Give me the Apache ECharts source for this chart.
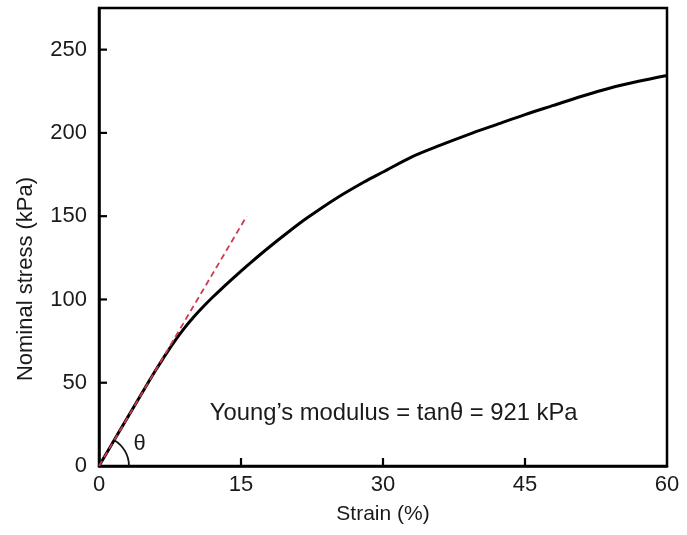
<!DOCTYPE html>
<html>
<head>
<meta charset="utf-8">
<script src="https://cdn.jsdelivr.net/npm/echarts@6/dist/echarts.min.js"></script>
<style>html,body{margin:0;padding:0;background:#fff}#c{width:687px;height:535px}</style>
</head>
<body>
<div id="c"></div>
<script>
const strainPct = [0, 2, 4, 5, 6, 7, 8, 9, 10, 11, 12, 13, 14, 15, 16, 18, 20, 22, 25, 28, 30, 33, 36, 39, 42, 45, 48, 51, 54, 57, 60];
const stressKPa = [0, 19.3, 38.6, 48.2, 57.6, 66.6, 75, 82.6, 89.4, 95.6, 101.3, 106.7, 111.9, 117, 122, 131.5, 140.5, 149, 160.5, 170.5, 176.5, 185.5, 192.5, 199, 205, 211, 216.5, 222, 227, 231, 234.5];
const tangentStrain = [0, 15.6];
const tangentStress = [0, 150];
const xTicks = [0, 15, 30, 45, 60];
const yTicks = [0, 50, 100, 150, 200, 250];
const annotationText = 'Young\u2019s modulus = tan\u03b8 = 921 kPa';
const annotationPos = [11.7, 31.6];
const thetaPos = [4.3, 13];

const FONT = "'Liberation Sans', Arial, sans-serif";
const chart = echarts.init(document.getElementById('c'), null, {renderer: 'canvas'});

const option = {
  animation: false,
  backgroundColor: '#fff',
  grid: {left: 99, right: 20, top: 8, bottom: 69, show: true, borderColor: '#000', borderWidth: 2.5, backgroundColor: 'transparent'},
  xAxis: {
    type: 'value', min: xTicks[0], max: xTicks[xTicks.length - 1], interval: 15,
    name: 'Strain (%)', nameLocation: 'middle', nameGap: 38,
    nameTextStyle: {fontFamily: FONT, fontSize: 21, color: '#1a1a1a'},
    axisLine: {show: true, onZero: false, lineStyle: {color: '#000', width: 2.5}},
    axisTick: {show: false},
    axisLabel: {fontFamily: FONT, fontSize: 22, color: '#1a1a1a', margin: 8},
    splitLine: {show: false}
  },
  yAxis: {
    type: 'value', min: 0, max: 275, interval: 50,
    name: 'Nominal stress (kPa)', nameLocation: 'middle', nameGap: 62,
    nameTextStyle: {fontFamily: FONT, fontSize: 22, color: '#1a1a1a', padding: [0, 84, 0, 0]},
    axisLine: {show: true, onZero: false, lineStyle: {color: '#000', width: 2.5}},
    axisTick: {show: false},
    axisLabel: {fontFamily: FONT, fontSize: 22, color: '#1a1a1a', margin: 12, customValues: yTicks},
    splitLine: {show: false}
  },
  series: [
    {
      type: 'line', name: 'curve', showSymbol: false, symbol: 'none', smooth: 0.3,
      data: strainPct.map((x, i) => [x, stressKPa[i]]),
      lineStyle: {color: '#000', width: 3}, z: 3
    },
    {
      type: 'line', name: 'tangent', showSymbol: false, symbol: 'none',
      data: tangentStrain.map((x, i) => [x, tangentStress[i]]),
      lineStyle: {color: '#d0384e', width: 1.8, type: [6, 4]}, z: 4
    },
    {
      type: 'custom', name: 'annot', z: 10, clip: false,
      data: [[0, 0]],
      renderItem: function (params, api) {
        const o = api.coord([tangentStrain[0], tangentStress[0]]);
        const p = api.coord([tangentStrain[1], tangentStress[1]]);
        const ang = Math.atan2(p[1] - o[1], p[0] - o[0]);
        const t = api.coord(thetaPos);
        const a = api.coord(annotationPos);
        const children = [
          {type: 'arc', shape: {cx: o[0], cy: o[1], r: 30, startAngle: ang, endAngle: 0, clockwise: true},
            style: {stroke: '#111', lineWidth: 1.8, fill: null}},
          {type: 'text', x: t[0], y: t[1],
            style: {text: '\u03b8', font: '22px ' + FONT, fill: '#1a1a1a', align: 'center', verticalAlign: 'middle'}},
          {type: 'text', x: a[0], y: a[1],
            style: {text: annotationText, font: '23.8px ' + FONT, fill: '#1a1a1a', align: 'left', verticalAlign: 'middle'}}
        ];
        const TL = 8, TW = 2.2;
        xTicks.slice(1, -1).forEach(function (v) {
          const q = api.coord([v, 0]);
          children.push({type: 'rect', shape: {x: q[0] - TW / 2, y: q[1] - TL, width: TW, height: TL},
            style: {fill: '#000', stroke: null}});
        });
        yTicks.slice(1).forEach(function (v) {
          const q = api.coord([0, v]);
          children.push({type: 'rect', shape: {x: q[0], y: q[1] - TW / 2, width: TL, height: TW},
            style: {fill: '#000', stroke: null}});
        });
        return {type: 'group', children: children};
      }
    }
  ]
};
chart.setOption(option);
</script>
</body>
</html>
